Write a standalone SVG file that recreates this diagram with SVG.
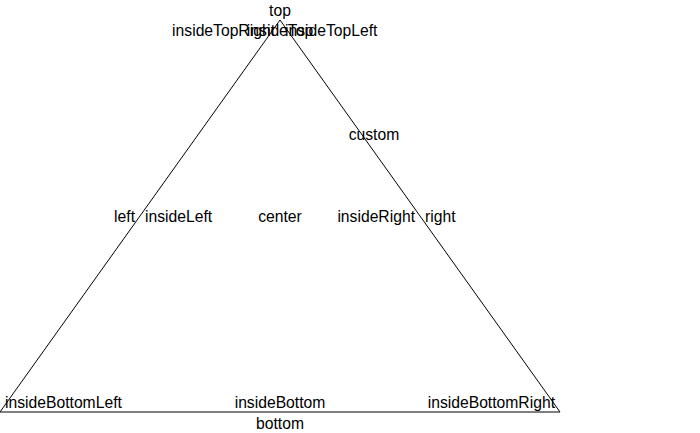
<svg xmlns="http://www.w3.org/2000/svg" width="700" height="433" viewBox="0 0 700 433">
<style>
text{font-family:"Liberation Sans",Arial,sans-serif;font-size:15.7px;fill:#000;dominant-baseline:central}
.s{text-anchor:start}.m{text-anchor:middle}.e{text-anchor:end}
</style>
<rect width="700" height="433" fill="#fff"/>
<g id="triangle">
<polygon points="280,20 560,412 0,412" fill="none" stroke="#000" stroke-width="1"/>
</g>
<g id="labels">
<text class="m" x="280" y="10">top</text>
<text class="e" x="275" y="30">insideTopRight</text>
<text class="m" x="280" y="30">insideTop</text>
<text class="s" x="285" y="30">insideTopLeft</text>
<text class="m" x="374" y="134">custom</text>
<text class="e" x="135" y="216">left</text>
<text class="s" x="145" y="216">insideLeft</text>
<text class="m" x="280" y="216">center</text>
<text class="e" x="415" y="216">insideRight</text>
<text class="s" x="425" y="216">right</text>
<text class="s" x="5" y="402">insideBottomLeft</text>
<text class="m" x="280" y="402">insideBottom</text>
<text class="e" x="555" y="402">insideBottomRight</text>
<text class="m" x="280" y="423">bottom</text>
</g>
</svg>
